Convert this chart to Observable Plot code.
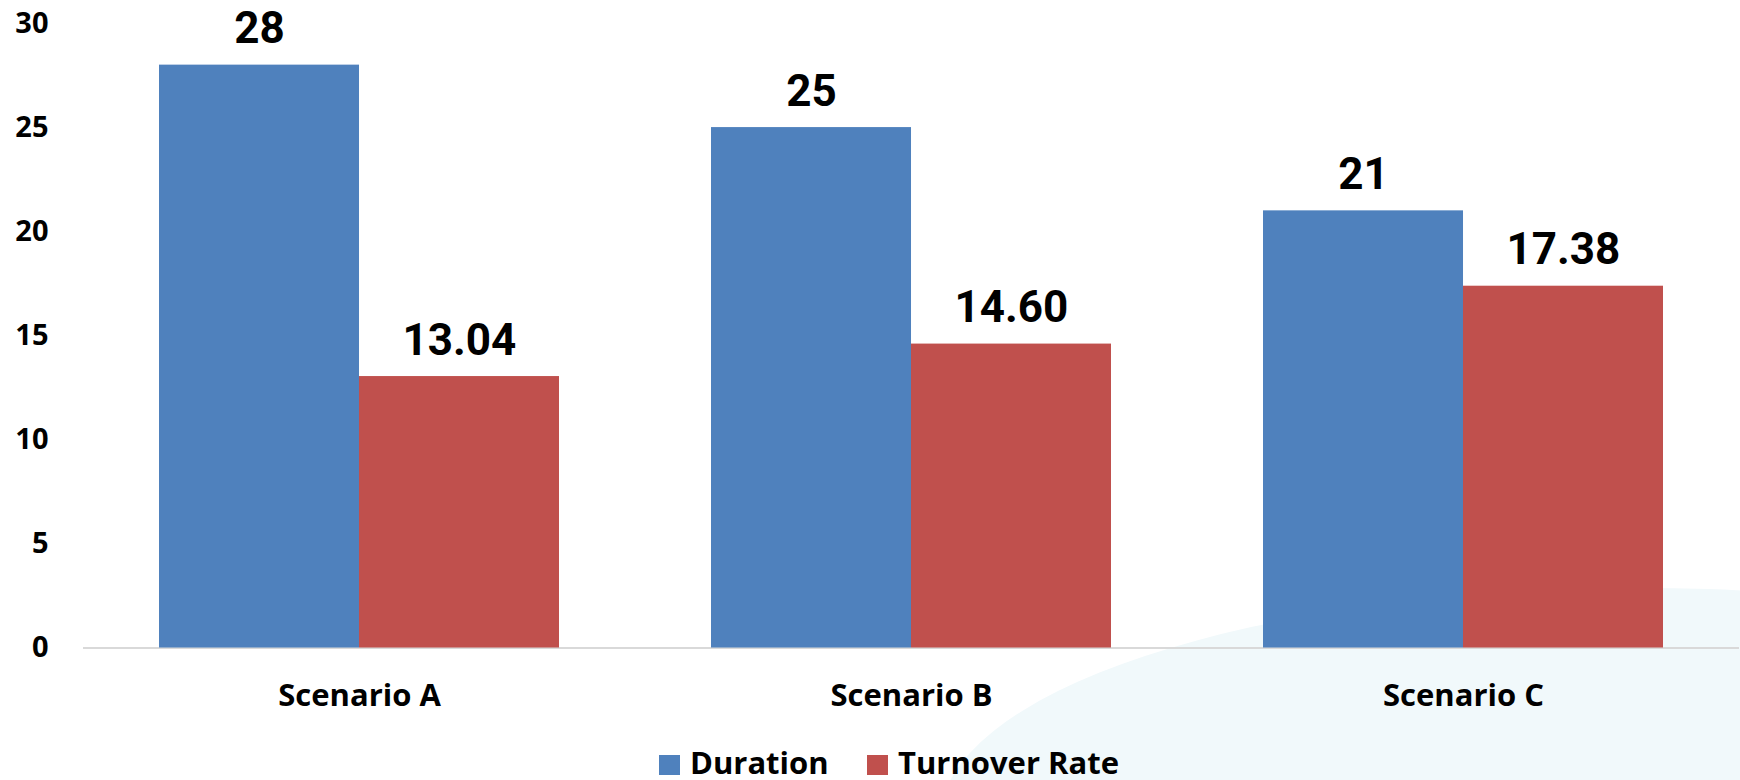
<!DOCTYPE html>
<html>
<head>
<meta charset="utf-8">
<script src="https://cdn.jsdelivr.net/npm/d3@7"></script>
<script src="https://cdn.jsdelivr.net/npm/@observablehq/plot@0.6"></script>
<style>
  html, body { margin: 0; padding: 0; background: #ffffff; overflow: hidden; }
  body { width: 1740px; height: 780px; position: relative; font-family: "Open Sans", sans-serif; }
  #bgshape { position: absolute; left: 940px; top: 588px; width: 1400px; height: 464px;
             border-radius: 50%; background: #f1f9fb; z-index: 0; }
  #chart { position: relative; z-index: 1; }
  #chart svg [aria-label^="x-axis"] text { font-size: 31px; }
  #chart svg [aria-label^="y-axis"] text { font-size: 29px; }
  #legend { position: relative; z-index: 1; height: 45px; }
  #legend .sw { position: absolute; top: 20px; width: 21px; height: 20px; }
  #legend .lt { position: absolute; top: 12px; font-size: 31px; line-height: 31px; font-weight: 700; color: #000; white-space: nowrap; }
</style>
</head>
<body>
<div id="bgshape"></div>
<div id="chart"></div>
<div id="legend"></div>
<script>
// ---- data ----
const scenarios = ["Scenario A", "Scenario B", "Scenario C"];
const duration = [28, 25, 21];
const turnover = [13.04, 14.60, 17.38];
const seriesNames = ["Duration", "Turnover Rate"];
const seriesColors = ["#4f81bd", "#c0504d"];
const yTicks = [0, 5, 10, 15, 20, 25, 30];

// ---- layout ----
const W = 1740, H = 735;
const ML = 83, MR = 1, MT = 23, MB = H - 647.5;
const padIn = 0.2754, padOut = padIn / 2;
const step = (W - ML - MR) / (scenarios.length - padIn + 2 * padOut);
const bw = step * (1 - padIn);

const rows = scenarios.map((s, i) => ({scenario: s, duration: duration[i], turnover: turnover[i]}));

const labelFont = "Roboto, 'Open Sans', sans-serif";

const chart = Plot.plot({
  width: W,
  height: H,
  marginLeft: ML,
  marginRight: MR,
  marginTop: MT,
  marginBottom: MB,
  style: {
    background: "transparent",
    fontFamily: "'Open Sans', sans-serif",
    fontWeight: "700",
    color: "#000000",
    fontSize: "29px"
  },
  x: {
    domain: scenarios,
    paddingInner: padIn,
    paddingOuter: padOut,
    label: null,
    tickSize: 0,
    tickPadding: 36
  },
  y: {
    domain: [0, 30],
    ticks: yTicks,
    tickFormat: d3.format("d"),
    label: null,
    tickSize: 0,
    tickPadding: 35
  },
  marks: [
    Plot.ruleY([0], {stroke: "#d9d9d9", strokeWidth: 2}),
    Plot.barY(rows, {x: "scenario", y: "duration", fill: seriesColors[0], insetLeft: 0, insetRight: bw / 2}),
    Plot.barY(rows, {x: "scenario", y: "turnover", fill: seriesColors[1], insetLeft: bw / 2, insetRight: 0}),
    Plot.text(rows, {x: "scenario", y: "duration", text: d => d3.format("d")(d.duration),
      dx: -bw / 4, dy: -22, lineAnchor: "bottom", fontSize: 44, fontWeight: 700, fontFamily: labelFont, fill: "#000"}),
    Plot.text(rows, {x: "scenario", y: "turnover", text: d => d3.format(".2f")(d.turnover),
      dx: bw / 4, dy: -22, lineAnchor: "bottom", fontSize: 44, fontWeight: 700, fontFamily: labelFont, fill: "#000"})
  ]
});
document.getElementById("chart").appendChild(chart);

// ---- legend ----
const legend = document.getElementById("legend");
const legendPos = [{sw: 659, tx: 690}, {sw: 867, tx: 898}];
seriesNames.forEach((name, i) => {
  const sw = document.createElement("div");
  sw.className = "sw";
  sw.style.left = legendPos[i].sw + "px";
  sw.style.background = seriesColors[i];
  legend.appendChild(sw);
  const t = document.createElement("span");
  t.className = "lt";
  t.style.left = legendPos[i].tx + "px";
  t.textContent = name;
  legend.appendChild(t);
});
</script>
</body>
</html>
